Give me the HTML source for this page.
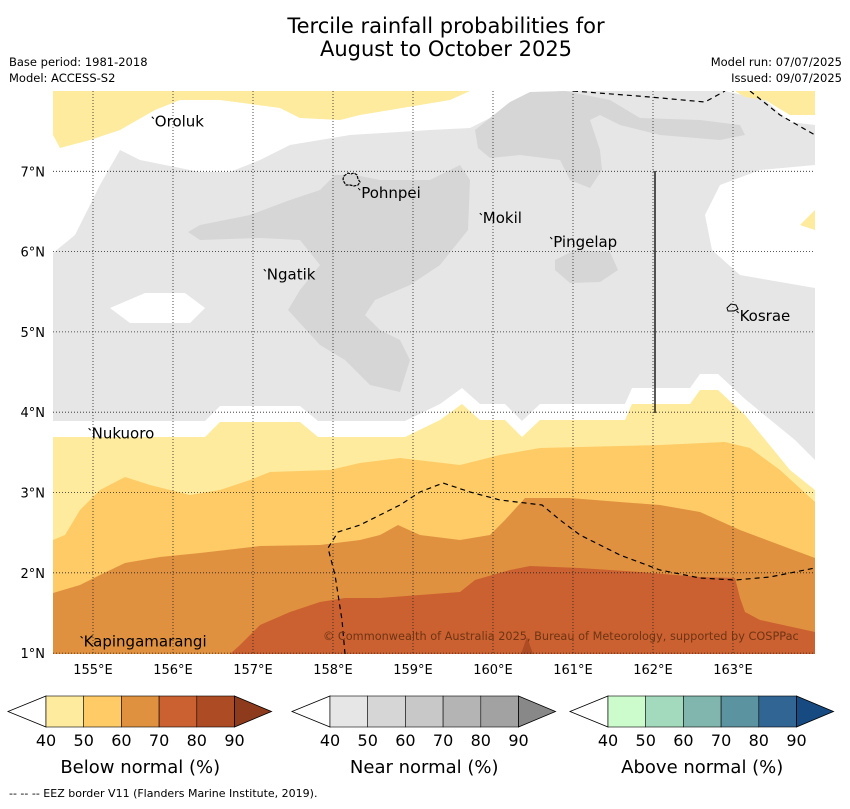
<!DOCTYPE html>
<html><head><meta charset="utf-8"><style>
body{margin:0;background:#fff;width:850px;height:804px;overflow:hidden;font-family:"Liberation Sans","DejaVu Sans",sans-serif}
svg text{font-family:"DejaVu Sans","Liberation Sans",sans-serif}
</style></head><body>
<svg id="c" width="850" height="804" xmlns="http://www.w3.org/2000/svg">
<text x="446" y="33" font-size="21" text-anchor="middle">Tercile rainfall probabilities for</text>
<text x="446" y="56" font-size="21" text-anchor="middle">August to October 2025</text>
<text x="9" y="66" font-size="11.5">Base period: 1981-2018</text>
<text x="9" y="82" font-size="11.5">Model: ACCESS-S2</text>
<text x="842" y="66" font-size="11.5" text-anchor="end">Model run: 07/07/2025</text>
<text x="842" y="82" font-size="11.5" text-anchor="end">Issued: 09/07/2025</text>
<g id="map"></g>
<g id="bars"></g>
<text x="9" y="797" font-size="11">--  --  -- EEZ border V11 (Flanders Marine Institute, 2019).</text>
</svg>
<script>
const lonTicks=[155,156,157,158,159,160,161,162,163];
const latTicks=[1,2,3,4,5,6,7];
const cbTicks=["40","50","60","70","80","90"];
const belowColors=["#feeb9d","#fecb66","#e0913f","#cb6130","#ad4b24","#8e3a1c"];
const nearColors=["#e6e6e6","#d6d6d6","#c8c8c8","#b4b4b4","#a2a2a2","#888888"];
const aboveColors=["#ccfccc","#a3d9bd","#80b6ae","#5b93a1","#306594","#164a80"];
const cbTitles=["Below normal (%)","Near normal (%)","Above normal (%)"];
const places=[["Oroluk",155.76,7.63],["Pohnpei",158.34,6.74],["Mokil",159.86,6.43],["Pingelap",160.74,6.13],["Ngatik",157.16,5.73],["Kosrae",163.07,5.21],["Nukuoro",154.97,3.75],["Kapingamarangi",154.87,1.16]];
const X=lon=>53+(lon-154.5)*80, Y=lat=>91+(8-lat)*80.3;
const NS="http://www.w3.org/2000/svg";
const map=document.getElementById('map'), bars=document.getElementById('bars');
function mk(p,tag,at){const e=document.createElementNS(NS,tag);for(const k in at)e.setAttribute(k,at[k]);p.appendChild(e);return e;}
const P=a=>a.map(p=>p.join(',')).join(' ');
const shapes=[
["near-40-region",nearColors[0],[[53,253],[75,235],[100,185],[120,150],[140,160],[200,172],[230,172],[260,160],[290,145],[350,135],[430,130],[470,128],[490,118],[530,95],[560,91],[815,91],[815,460],[795,440],[745,399],[718,374],[700,374],[690,388],[632,388],[625,404],[540,404],[522,421],[505,404],[480,404],[462,388],[440,404],[405,421],[318,421],[300,406],[220,406],[205,421],[53,421]]],
["white-gap-right","#fff",[[815,165],[760,170],[720,185],[705,215],[712,250],[740,275],[815,288]]],
["white-gap-left","#fff",[[110,308],[145,293],[185,293],[205,308],[190,323],[130,323]]],
["white-top-right","#fff",[[725,91],[815,91],[815,125],[790,122],[765,100]]],
["below-40-top-right",belowColors[0],[[735,91],[815,91],[815,115],[790,115],[765,100],[745,97]]],
["below-40-right-spot",belowColors[0],[[800,225],[815,210],[815,230]]],
["below-40-top-left",belowColors[0],[[53,91],[470,91],[450,100],[390,110],[360,115],[340,120],[300,118],[280,108],[220,100],[180,100],[155,110],[120,130],[90,140],[60,148],[53,135]]],
["near-50-central",nearColors[1],[[188,232],[200,225],[250,215],[290,200],[320,190],[335,175],[355,175],[380,180],[430,180],[460,165],[470,180],[468,230],[440,265],[410,285],[375,300],[365,315],[380,330],[400,340],[410,360],[400,392],[370,385],[345,360],[320,345],[288,310],[300,290],[320,265],[300,240],[260,238],[200,240]]],
["near-50-north",nearColors[1],[[475,130],[510,102],[530,92],[565,91],[610,100],[640,118],[700,120],[740,125],[745,135],[720,140],[660,135],[620,125],[600,115],[590,120],[600,150],[602,170],[590,188],[570,180],[560,160],[520,155],[490,158],[478,148]]],
["near-50-pingelap",nearColors[1],[[555,260],[575,250],[610,252],[618,270],[600,282],[570,283],[555,270]]],
["below-40-band",belowColors[0],[[53,437],[205,437],[220,422],[300,422],[318,437],[405,437],[440,420],[462,404],[480,420],[505,420],[522,437],[540,420],[625,420],[632,404],[690,404],[700,390],[718,390],[745,415],[790,470],[815,490],[815,654],[53,654]]],
["below-50-band",belowColors[1],[[53,540],[65,535],[80,510],[100,490],[125,477],[150,485],[190,495],[220,490],[250,480],[270,472],[330,470],[360,463],[400,458],[460,465],[500,455],[540,448],[660,445],[725,442],[750,448],[780,470],[815,502],[815,654],[53,654]]],
["below-60-band",belowColors[2],[[53,593],[80,585],[100,575],[125,563],[160,557],[200,553],[260,546],[320,545],[360,540],[380,535],[398,525],[420,535],[460,540],[490,535],[505,520],[525,498],[570,498],[620,502],[660,505],[700,512],[740,530],[780,545],[815,558],[815,654],[53,654]]],
["below-70-band",belowColors[3],[[230,654],[240,645],[260,625],[290,612],[320,602],[345,598],[380,598],[460,592],[475,580],[510,570],[530,566],[580,568],[640,572],[700,577],[735,578],[740,598],[745,612],[760,620],[815,632],[815,654]]],
["below-80-spike",belowColors[4],[[521,654],[527,637],[533,654]]]
];
mk(map,'rect',{x:53,y:91,width:762,height:563,fill:'#fff'});
const clip=mk(map,'clipPath',{id:'mc'});mk(clip,'rect',{x:53,y:91,width:762,height:563});
const g=mk(map,'g',{'clip-path':'url(#mc)'});
shapes.forEach(s=>{const e=mk(g,'polygon',{points:P(s[2]),fill:s[1]});

});
lonTicks.forEach(l=>{const x=X(l);const e=mk(map,'line',{x1:x,x2:x,y1:91,y2:654,stroke:'#222','stroke-width':0.8,'stroke-dasharray':'1,2'});


const t=mk(map,'text',{x:x,y:674,'font-size':13,'text-anchor':'middle'});t.textContent=l+'°E';

});
latTicks.forEach(l=>{const y=Y(l);const e=mk(map,'line',{x1:53,x2:815,y1:y,y2:y,stroke:'#222','stroke-width':0.8,'stroke-dasharray':'1,2'});


const t=mk(map,'text',{x:45,y:y+5,'font-size':13,'text-anchor':'end'});t.textContent=l+'°N';

});
[[[573,91],[650,97],[705,102],[725,91]],[[750,91],[780,115],[815,135]],[[345,654],[342,620],[335,575],[328,548],[338,532],[360,525],[400,505],[420,492],[443,483],[470,492],[500,500],[542,505],[560,520],[580,535],[620,555],[660,570],[700,578],[735,580],[770,577],[815,568]]].forEach(a=>{
const e=mk(g,'polyline',{points:P(a),fill:'none',stroke:'#000','stroke-width':1.2,'stroke-dasharray':'5,4'});

});
const sl=mk(map,'line',{x1:655,x2:655,y1:171,y2:413,stroke:'#000','stroke-width':1.3});


const pi=mk(map,'path',{d:'M344,176 l4,-3 3,1 3,-1 3,2 1,4 2,3 -2,3 -4,1 -4,-1 -4,0 -2,-3 -1,-3 z',fill:'none',stroke:'#000','stroke-width':1.2,'stroke-dasharray':'3,1'});


const ki=mk(map,'path',{d:'M727,308 l4,-4 5,1 2,4 -4,2 -6,0 z',fill:'none',stroke:'#000','stroke-width':1});


places.forEach(p=>{const x=X(p[1]),y=Y(p[2]);
const m=mk(map,'line',{x1:x-2,y1:y-4,x2:x,y2:y-2,stroke:'#000','stroke-width':1});
const t=mk(map,'text',{x:x+1,y:y+6,'font-size':15});t.textContent=p[0];

});
const cp=mk(map,'text',{x:323,y:640,'font-size':11.3,fill:'#6e3414'});cp.textContent='© Commonwealth of Australia 2025, Bureau of Meteorology, supported by COSPPac';


const cbs=[[8,belowColors],[292,nearColors],[570,aboveColors]];
cbs.forEach((c,i)=>{const x0=c[0],cols=c[1],bw=37.7,bx=x0+38,yt=696,yb=727;
const lt=mk(bars,'polygon',{points:`${x0},${(yt+yb)/2} ${bx},${yt} ${bx},${yb}`,fill:'#fff',stroke:'#000','stroke-width':0.8});


for(let k=0;k<5;k++){const r=mk(bars,'rect',{x:bx+k*bw,y:yt,width:bw,height:yb-yt,fill:cols[k],stroke:'#000','stroke-width':0.6});

}
const ex=bx+5*bw;
const rt=mk(bars,'polygon',{points:`${ex},${yt} ${ex+37},${(yt+yb)/2} ${ex},${yb}`,fill:cols[5],stroke:'#000','stroke-width':0.8});


cbTicks.forEach((t,k)=>{const e=mk(bars,'text',{x:bx+k*bw,y:746,'font-size':16,'text-anchor':'middle'});e.textContent=t;

});
const tt=mk(bars,'text',{x:bx+2.5*bw,y:773,'font-size':18,'text-anchor':'middle'});tt.textContent=cbTitles[i];

});
</script>
</body></html>
